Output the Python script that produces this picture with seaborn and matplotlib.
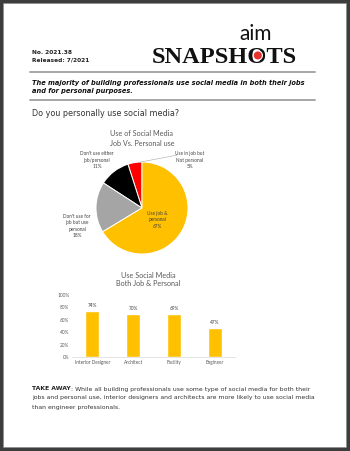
import matplotlib
matplotlib.use("Agg")
import matplotlib.pyplot as plt
import matplotlib.transforms as mtransforms
import seaborn as sns
import pandas as pd
from matplotlib.patches import Rectangle, Circle
from matplotlib.lines import Line2D
from matplotlib.ticker import PercentFormatter

# ---------------- data ----------------
pie_labels = ["Use in job but\nNot personal\n5%", "Don't use either\njob/personal\n11%",
              "Don't use for\njob but use\npersonal\n18%", "Use job &\npersonal\n67%"]
pie_values = [5, 11, 18, 67]
pie_colors = ["#FF0000", "#000000", "#A5A5A5", "#FFC000"]

bar_categories = ["Interior Designer", "Architect", "Facility", "Engineer"]
bar_values = [0.74, 0.70, 0.69, 0.47]
bar_value_labels = ["74%", "70%", "69%", "47%"]
y_ticks = [0, 0.2, 0.4, 0.6, 0.8, 1.0]

headline = ["The majority of building professionals use social media in both their jobs",
            "and for personal purposes."]
question = "Do you personally use social media?"
takeaway_lines = ["While all building professionals use some type of social media for both their",
                  "jobs and personal use, interior designers and architects are more likely to use social media",
                  "than engineer professionals."]

sns.set_style("white")
plt.rcParams["font.family"] = ["DejaVu Sans"]

W, H = 350, 451
fig = plt.figure(figsize=(W / 100, H / 100), dpi=100)
fig.patch.set_facecolor("#3d3d3d")


def fx(px):
    return px / W


def fy(py):
    return 1 - py / H


def fig_axes(x0, y0, x1, y1):
    return fig.add_axes([fx(x0), fy(y1), fx(x1) - fx(x0), fy(y0) - fy(y1)])


# white page
fig.add_artist(Rectangle((fx(3), fy(447)), fx(346) - fx(3), fy(3) - fy(447),
                         transform=fig.transFigure, facecolor="white", edgecolor="#8a8a8a",
                         lw=0.4, zorder=0))

# ---------- header ----------
fig.text(fx(32), fy(52), "No. 2021.38", fontsize=4.2, fontweight="bold", color="#222222", va="center")
fig.text(fx(32), fy(60), "Released: 7/2021", fontsize=4.2, fontweight="bold", color="#222222", va="center")

LOGO_FS = 17.6
logo_kw = dict(family="Liberation Serif", fontweight="bold", fontsize=LOGO_FS,
               va="baseline", ha="left")
logo = fig.text(fx(152), fy(63), "SNAPSHOTS", color="#111111", **logo_kw)
fig.text(fx(239), fy(40), "aim", family="Lato", fontweight="normal", fontsize=15,
         color="#111111", va="baseline", ha="left")

renderer = fig.canvas.get_renderer()
full = logo.get_window_extent(renderer)
tmp = fig.text(fx(152), fy(63), "SNAPSH", **logo_kw)
part = tmp.get_window_extent(renderer)
tmp2 = fig.text(fx(152), fy(63), "SNAPSHO", **logo_kw)
part2 = tmp2.get_window_extent(renderer)
tmp.remove()
tmp2.remove()
ocx_px = (part.x1 + part2.x1) / 2
ocy_px = fy(63) * H + 0.36 * full.height
fig.add_artist(Circle((ocx_px, ocy_px), 4.6, transform=mtransforms.IdentityTransform(),
                      facecolor="#E5322D", edgecolor="white", lw=0.8, zorder=5))

for yy in (72, 100):
    fig.add_artist(Line2D([fx(30), fx(315)], [fy(yy), fy(yy)], transform=fig.transFigure,
                          color="#a6a6a6", lw=1.4))

fig.text(fx(32), fy(83), headline[0], fontsize=4.75, fontweight="bold", style="italic",
         color="#111111", va="center")
fig.text(fx(32), fy(91), headline[1], fontsize=4.75, fontweight="bold", style="italic",
         color="#111111", va="center")
fig.text(fx(32), fy(114), question, fontsize=5.8, color="#333333", va="center")

# ---------- pie ----------
cx, cy, r = 142, 208, 46
ax_pie = fig_axes(cx - r, cy - r, cx + r, cy + r)
ax_pie.pie(pie_values, colors=pie_colors, startangle=90, counterclock=True,
           wedgeprops=dict(edgecolor="white", linewidth=0.7))
ax_pie.set_xlim(-1, 1)
ax_pie.set_ylim(-1, 1)
ax_pie.set_aspect("equal")
ax_pie.axis("off")
lab_pos = [(1.04, 1.04), (-0.98, 1.04), (-1.41, -0.39), (0.33, -0.26)]
for (lx, ly), txt in zip(lab_pos, pie_labels):
    ax_pie.text(lx, ly, txt, fontsize=3.4, family="Lato", color="#404040",
                ha="center", va="center", linespacing=1.3)
ax_pie.plot([-0.08, 0.76], [0.99, 1.15], color="#a6a6a6", lw=0.4, clip_on=False)

fig.text(fx(142), fy(133), "Use of Social Media", family="Lato", fontsize=5.2,
         color="#595959", ha="center", va="center")
fig.text(fx(142), fy(143), "Job Vs. Personal use", family="Lato", fontsize=5.2,
         color="#595959", ha="center", va="center")

# ---------- bars ----------
fig.text(fx(148), fy(275), "Use Social Media", family="Lato", fontsize=5.2,
         color="#595959", ha="center", va="center")
fig.text(fx(148), fy(284), "Both Job & Personal", family="Lato", fontsize=5.2,
         color="#595959", ha="center", va="center")

ax_bar = fig_axes(72, 295, 235, 357)
df = pd.DataFrame({"cat": bar_categories, "val": bar_values})
sns.barplot(data=df, x="cat", y="val", color="#FFC000", width=0.34, ax=ax_bar,
            saturation=1)
ax_bar.set_facecolor("none")
ax_bar.set_xlim(-0.5, 3.5)
ax_bar.set_ylim(0, 1)
ax_bar.set_yticks(y_ticks)
ax_bar.yaxis.set_major_formatter(PercentFormatter(1.0, decimals=0))
ax_bar.set_xlabel("")
ax_bar.set_ylabel("")
for s in ("top", "right", "left"):
    ax_bar.spines[s].set_visible(False)
ax_bar.spines["bottom"].set_color("#d9d9d9")
ax_bar.spines["bottom"].set_linewidth(0.5)
ax_bar.tick_params(axis="both", length=0, labelsize=3.4, labelcolor="#595959", pad=2)
for lbl in ax_bar.get_xticklabels() + ax_bar.get_yticklabels():
    lbl.set_family("Lato")
ax_bar.bar_label(ax_bar.containers[0], labels=bar_value_labels, fontsize=3.4,
                 color="#404040", padding=2, family="Lato")

# ---------- take away ----------
TK_FS = 4.4
tk = fig.text(fx(32), fy(389), "TAKE AWAY", fontsize=TK_FS, fontweight="bold", color="#222222",
              va="center")
ext = tk.get_window_extent(renderer)
fig.text(ext.x1 / W, fy(389), ": " + takeaway_lines[0], fontsize=TK_FS, color="#333333", va="center")
fig.text(fx(32), fy(398), takeaway_lines[1], fontsize=TK_FS, color="#333333", va="center")
fig.text(fx(32), fy(407), takeaway_lines[2], fontsize=TK_FS, color="#333333", va="center")

fig.savefig("out.png", dpi=100, facecolor=fig.get_facecolor())
